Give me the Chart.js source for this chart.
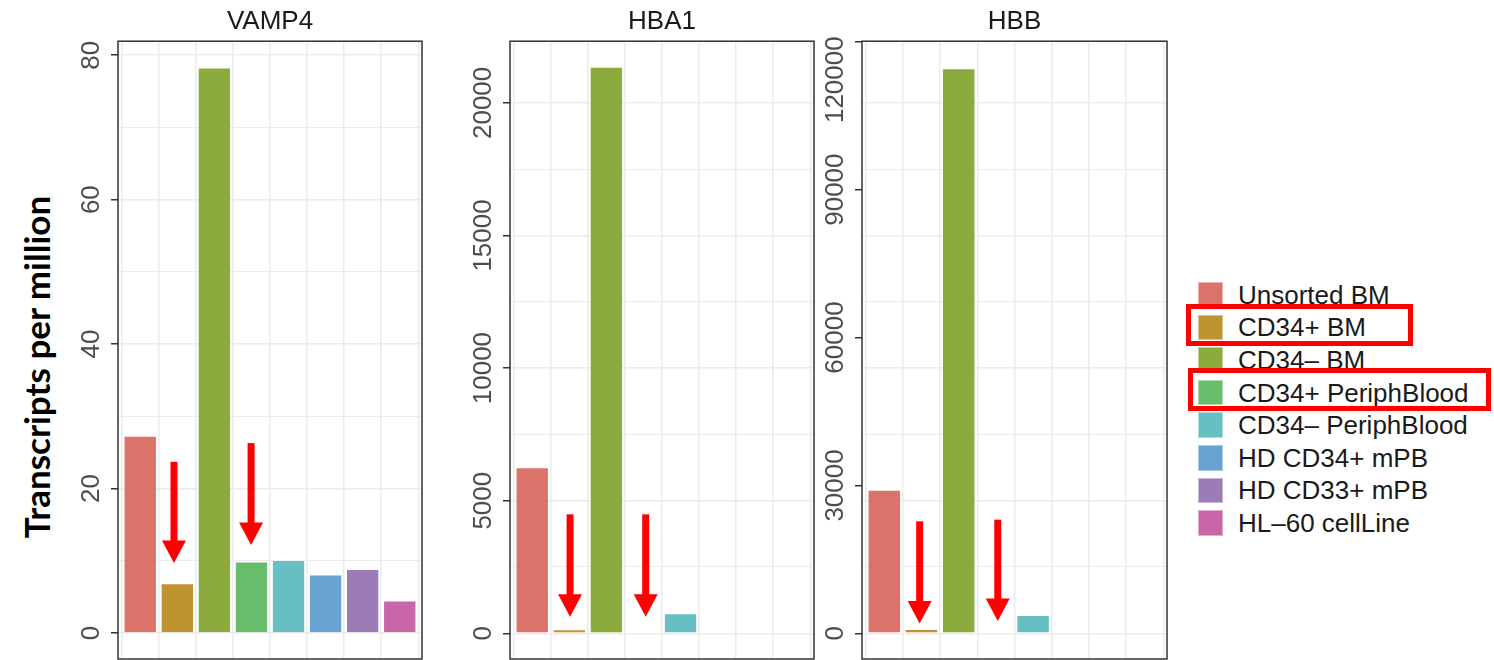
<!DOCTYPE html>
<html>
<head>
<meta charset="utf-8">
<script src="https://cdn.jsdelivr.net/npm/chart.js@4.4.0/dist/chart.umd.min.js"></script>
<style>
  html, body { margin:0; padding:0; background:#ffffff; width:1494px; height:660px; overflow:hidden; }
  body { position:relative; font-family:"Liberation Sans", Arial, sans-serif; }
  canvas { position:absolute; top:0; }
  #ytitle { position:absolute; left:36px; top:367px; transform:translate(-50%,-50%) rotate(-90deg);
            font-family:Lato, "Open Sans", sans-serif; font-weight:bold; font-size:35px; color:#000; white-space:nowrap; }
  .key { position:absolute; left:1198px; width:25px; height:25.5px; box-sizing:border-box; border:1px solid rgba(255,255,255,0.45); }
  .lab { position:absolute; left:1238px; height:30px; line-height:30px; font-size:26px; color:#1a1a1a; white-space:nowrap; }
  .hl { position:absolute; border:5px solid #ff0000; box-sizing:border-box; z-index:5; }
</style>
</head>
<body>
<canvas id="c1" width="370" height="662" style="left:60px"></canvas>
<canvas id="c2" width="376" height="662" style="left:440px"></canvas>
<canvas id="c3" width="360" height="662" style="left:816px"></canvas>
<div id="ytitle">Transcripts per million</div>
<div id="legend"></div>
<div class="hl" style="left:1186px; top:304px; width:227px; height:42px;"></div>
<div class="hl" style="left:1188px; top:368px; width:303px; height:43px;"></div>
<script>
// ---------------- data ----------------
const categories = ['Unsorted BM','CD34+ BM','CD34\u2013 BM','CD34+ PeriphBlood','CD34\u2013 PeriphBlood','HD CD34+ mPB','HD CD33+ mPB','HL\u201360 cellLine'];
const colors = ['#DC736A','#BE9430','#8BAB3F','#68BD6C','#67BFC3','#6AA1D3','#9B7CB7','#C866A7'];
const genes = ['VAMP4','HBA1','HBB'];

const vamp4Values = [27.3, 6.9, 78.3, 9.9, 10.1, 8.1, 8.85, 4.5];
const hba1Values  = [6257, 150, 21357, 0, 754, 0, 0, 0];
const hbbValues   = [29130, 870, 114620, 0, 3700, 0, 0, 0];

const vamp4TickLabels = [0, 20, 40, 60, 80];
const hba1TickLabels  = [0, 5000, 10000, 15000, 20000];
const hbbTickLabels   = [0, 30000, 60000, 90000, 120000];

// red arrows: category position, start value, tip value
const vamp4ArrowX = [1.91, 3.99], vamp4ArrowFrom = [23.7, 26.3], vamp4ArrowTo = [9.7, 12.2];
const hba1ArrowX  = [2.02, 4.06], hba1ArrowFrom  = [4485, 4485], hba1ArrowTo  = [626, 626];
const hbbArrowX   = [1.95, 4.05], hbbArrowFrom   = [22720, 23060], hbbArrowTo  = [2020, 2490];

// ---------------- styling ----------------
const FONT = '"Liberation Sans", Arial, sans-serif';
const GRID = '#ebebeb', AXIS = '#333333', TICKTXT = '#4d4d4d';
const TL = 7, GAP = 19;
const mctx = document.createElement('canvas').getContext('2d');
function widest(labels) { mctx.font = '26px ' + FONT; return Math.max(...labels.map(l => mctx.measureText(String(l)).width)); }
function stepTicks(min, max, step) {
  const out = [];
  for (let k = Math.ceil(min / step); k * step <= max; k++) out.push({ value: k * step });
  return out;
}

// legend
const legend = document.getElementById('legend');
categories.forEach((c, i) => {
  const k = document.createElement('div'); k.className = 'key';
  k.style.top = (282 + i * 32.6) + 'px'; k.style.background = colors[i];
  legend.appendChild(k);
  const t = document.createElement('div'); t.className = 'lab';
  t.style.top = (294.75 + i * 32.6 - 15) + 'px'; t.textContent = c;
  legend.appendChild(t);
});

function framePlugin() {
  return { id: 'frame', afterDraw(chart) {
    const a = chart.chartArea, ctx = chart.ctx;
    ctx.save(); ctx.strokeStyle = AXIS; ctx.lineWidth = 1.5;
    ctx.strokeRect(a.left, a.top, a.right - a.left, a.bottom - a.top);
    ctx.restore();
  }};
}
function arrowPlugin(xs, froms, tos) {
  return { id: 'arrows', afterDatasetsDraw(chart) {
    const ctx = chart.ctx, xs_ = chart.scales.x, ys_ = chart.scales.y;
    ctx.save(); ctx.fillStyle = '#ff0000';
    xs.forEach((xv, i) => {
      const px = xs_.getPixelForValue(xv), y0 = ys_.getPixelForValue(froms[i]), y1 = ys_.getPixelForValue(tos[i]);
      const head = 22.5, hw = 12, sw = 3.5;
      ctx.fillRect(px - sw, y0, 2 * sw, (y1 - head) - y0 + 1);
      ctx.beginPath(); ctx.moveTo(px - hw, y1 - head); ctx.lineTo(px + hw, y1 - head); ctx.lineTo(px, y1); ctx.closePath(); ctx.fill();
    });
    ctx.restore();
  }};
}

function xScale() {
  return { type: 'linear', min: 0.4, max: 8.6, offset: false,
    afterBuildTicks: s => { s.ticks = categories.map((c, i) => ({ value: i + 1 })); },
    ticks: { display: false },
    grid: { color: GRID, lineWidth: 1.5, drawTicks: false },
    border: { display: false } };
}
function yScale(o) {
  const labs = o.tickLabels.filter(v => !(o.hide || []).includes(v));
  const w = widest(labs);
  return {
    type: 'linear', position: 'left', min: o.min, max: o.max, weight: 2,
    afterBuildTicks: s => { s.ticks = stepTicks(o.min, o.max, o.step); },
    afterFit: s => { s.width = o.width; s.paddingTop = 0; s.paddingBottom = 0; },
    ticks: { autoSkip: false, minRotation: 90, maxRotation: 90,
      crossAlign: 'center', padding: GAP - w / 2, font: { family: FONT, size: 26 }, color: TICKTXT,
      callback: v => (labs.includes(v) ? String(v) : '') },
    grid: { drawOnChartArea: o.showGrid,
      color: GRID,
      lineWidth: c => (c.tick && c.tick.value % o.major === 0) ? 1.5 : 1,
      drawTicks: true, tickLength: TL, tickWidth: 1.5,
      tickColor: c => (c.tick && c.tick.value % o.major === 0) ? AXIS : 'rgba(0,0,0,0)' },
    border: { display: false }
  };
}

function makeChart(id, title, values, scalesExtra, yOpts, padRight, arrows) {
  const scales = Object.assign({ x: xScale(), y: yScale(yOpts) }, scalesExtra || {});
  return new Chart(document.getElementById(id), {
    type: 'bar',
    data: { datasets: [{
      data: values.map((v, i) => ({ x: i + 1, y: v })),
      backgroundColor: colors, borderColor: 'rgba(255,255,255,0.45)', borderWidth: 1,
      categoryPercentage: 1, barPercentage: 0.9 }] },
    options: {
      responsive: false, animation: false, devicePixelRatio: 1,
      layout: { padding: { left: 0, right: padRight, top: 0, bottom: 3 } },
      plugins: {
        legend: { display: false }, tooltip: { enabled: false },
        title: { display: true, text: title, fullSize: false, color: '#1a1a1a',
                 font: { family: FONT, size: 26, weight: 'normal' }, padding: { top: 6, bottom: 4 } }
      },
      scales
    },
    plugins: [framePlugin(), arrowPlugin(arrows[0], arrows[1], arrows[2])]
  });
}

// VAMP4
makeChart('c1', genes[0], vamp4Values, null,
  { min: -3.6, max: 81.94, step: 10, major: 20, tickLabels: vamp4TickLabels, width: 58, showGrid: true }, 8,
  [vamp4ArrowX, vamp4ArrowFrom, vamp4ArrowTo]);

// HBA1
const hbaMin = -969, hbaMax = 22325;
makeChart('c2', genes[1], hba1Values, null,
  { min: hbaMin, max: hbaMax, step: 2500, major: 5000, tickLabels: hba1TickLabels, width: 70, showGrid: true }, 2,
  [hba1ArrowX, hba1ArrowFrom, hba1ArrowTo]);

// HBB
const hbbMin = -5200, hbbMax = 120100;
const wTop = widest([hbbTickLabels[4]]);
makeChart('c3', genes[2], hbbValues, {
    yTop: { type: 'linear', position: 'left', min: hbbMin, max: hbbMax, weight: 1,
      afterBuildTicks: s => { s.ticks = [{ value: hbbTickLabels[4] }]; },
      afterFit: s => { s.width = 0; s.paddingTop = 0; s.paddingBottom = 0; },
      ticks: { autoSkip: false, minRotation: 90, maxRotation: 90, mirror: true,
        crossAlign: 'center', padding: -(TL + GAP) - wTop / 2, labelOffset: 38, font: { family: FONT, size: 26 }, color: TICKTXT,
        callback: v => String(v) },
      grid: { display: false, drawTicks: true, tickLength: TL },
      border: { display: false } },
    g: { type: 'linear', position: 'left', min: hbaMin, max: hbaMax, weight: 0,
      afterBuildTicks: s => { s.ticks = stepTicks(hbaMin, hbaMax, 2500); },
      afterFit: s => { s.width = 0; s.paddingTop = 0; s.paddingBottom = 0; },
      ticks: { display: false, autoSkip: false },
      grid: { color: GRID, lineWidth: c => (c.tick && c.tick.value % 5000 === 0) ? 1.5 : 1, drawTicks: false },
      border: { display: false } }
  },
  { min: hbbMin, max: hbbMax, step: 30000, major: 30000, tickLabels: hbbTickLabels, hide: [120000], width: 46, showGrid: false }, 9,
  [hbbArrowX, hbbArrowFrom, hbbArrowTo]);
</script>
</body>
</html>
